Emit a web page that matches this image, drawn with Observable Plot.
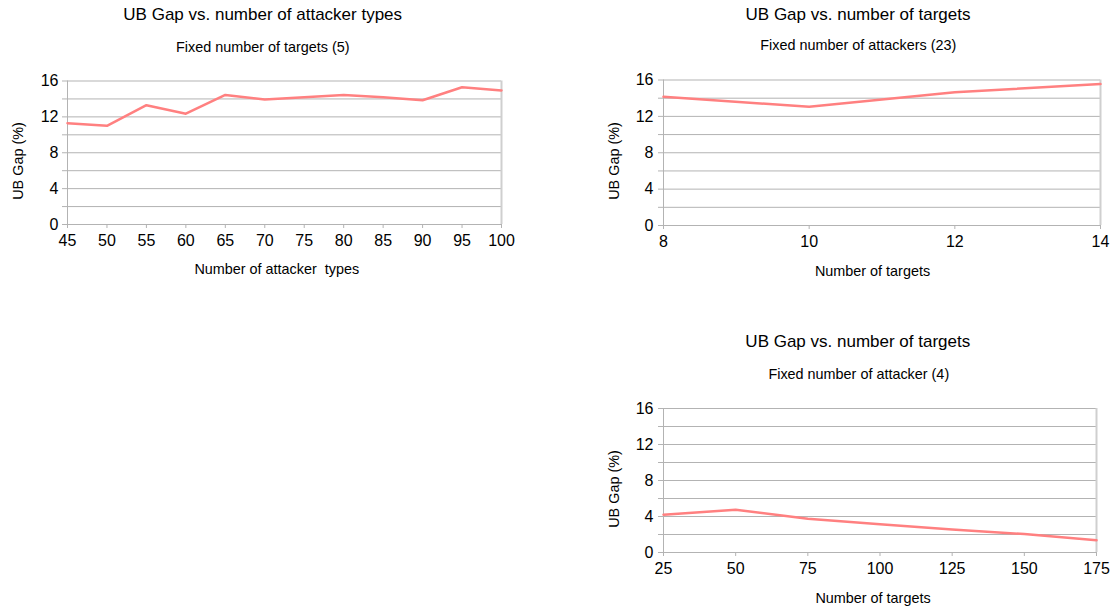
<!DOCTYPE html>
<html><head><meta charset="utf-8">
<script src="https://cdn.jsdelivr.net/npm/d3@7"></script>
<script src="https://cdn.jsdelivr.net/npm/@observablehq/plot@0.6"></script>
<style>
body{margin:0;background:#fff;font-family:"Liberation Sans",Arial,sans-serif;}
#root{position:relative;width:1114px;height:612px;overflow:hidden;background:#fff;}
.t{position:absolute;white-space:pre;color:#000;line-height:1;transform:translate(-50%,-50%);}
.title{font-size:17px;}
.sub{font-size:14.4px;}
.axt{font-size:14.4px;}
.yt{font-size:14.4px;transform:translate(-50%,-50%) rotate(-90deg);}
.c{position:absolute;}
</style></head>
<body><div id="root"></div>
<script>
// ---- data ----
const attackerTypes = [45, 50, 55, 60, 65, 70, 75, 80, 85, 90, 95, 100];
const gapByAttackerTypes = [11.3, 11.0, 13.3, 12.35, 14.45, 13.95, 14.2, 14.45, 14.2, 13.85, 15.3, 14.95];

const targetsFixed23 = [8, 10, 12, 14];
const gapByTargetsFixed23 = [14.15, 13.05, 14.65, 15.55];

const targetsFixed4 = [25, 50, 75, 100, 125, 150, 175];
const gapByTargetsFixed4 = [4.2, 4.75, 3.75, 3.15, 2.55, 2.05, 1.35];

const yTicks = [0, 2, 4, 6, 8, 10, 12, 14, 16];
const xTicks1 = [45, 50, 55, 60, 65, 70, 75, 80, 85, 90, 95, 100];
const xTicks2 = [8, 10, 12, 14];
const xTicks3 = [25, 50, 75, 100, 125, 150, 175];

const titles = ["UB Gap vs. number of attacker types", "UB Gap vs. number of targets", "UB Gap vs. number of targets"];
const subtitles = ["Fixed number of targets (5)", "Fixed number of attackers (23)", "Fixed number of attacker (4)"];
const xLabels = ["Number of attacker  types", "Number of targets", "Number of targets"];
const yLabel = "UB Gap (%)";

// ---- style ----
const lineColor = "#ff8080";
const gridColor = "#b3b3b3";
const font = "'Liberation Sans', Arial, sans-serif";

const root = document.getElementById("root");

function chart(xs, ys, xTicks, box) {
  const data = xs.map((x, i) => ({x, y: ys[i]}));
  const dom = [xTicks[0], xTicks[xTicks.length - 1]];
  const svg = Plot.plot({
    width: box.w, height: box.h,
    marginLeft: box.m[0], marginRight: box.m[1], marginTop: box.m[2], marginBottom: box.m[3],
    style: {background: "transparent", fontFamily: font, color: "#000", overflow: "visible", maxWidth: "none"},
    x: {domain: dom},
    y: {domain: [0, 16]},
    marks: [
      Plot.gridY(yTicks, {stroke: gridColor, strokeOpacity: 1, strokeWidth: 1}),
      Plot.ruleX([dom[0]], {stroke: gridColor, strokeWidth: 1}),
      Plot.ruleX([dom[1]], {stroke: "#cfcfcf", strokeWidth: 2}),
      Plot.axisY(yTicks, {tickSize: 5, tickPadding: box.yp, fontSize: 16, stroke: gridColor, fill: "#000",
        tickFormat: d => (d % 4 === 0 ? String(d) : ""), label: null}),
      Plot.axisX(xTicks, {tickSize: 4, tickPadding: 6, fontSize: 16, stroke: gridColor, fill: "#000", label: null}),
      Plot.line(data, {x: "x", y: "y", stroke: lineColor, strokeWidth: 2.5, strokeLinejoin: "round"})
    ]
  });
  const wrap = document.createElement("div");
  wrap.className = "c";
  wrap.style.left = box.left + "px";
  wrap.style.top = box.top + "px";
  wrap.style.width = box.w + "px";
  wrap.appendChild(svg);
  root.appendChild(wrap);
}

function text(cls, s, x, y) {
  const d = document.createElement("div");
  d.className = "t " + cls;
  d.textContent = s;
  d.style.left = x + "px";
  d.style.top = y + "px";
  root.appendChild(d);
}

chart(attackerTypes, gapByAttackerTypes, xTicks1, {left: 0, top: 60, w: 520, h: 230, m: [67, 19, 20.5, 66], yp: 4});
chart(targetsFixed23, gapByTargetsFixed23, xTicks2, {left: 590, top: 60, w: 524, h: 230, m: [73, 14, 19.5, 65], yp: 5});
chart(targetsFixed4, gapByTargetsFixed4, xTicks3, {left: 590, top: 390, w: 524, h: 222, m: [73, 18, 18, 60], yp: 5});

text("title", titles[0], 262.7, 13.7);
text("sub", subtitles[0], 262.8, 46.7);
text("axt", xLabels[0], 276.8, 269);
text("yt", yLabel, 17.8, 160.8);

text("title", titles[1], 858, 13.7);
text("sub", subtitles[1], 858.3, 44.8);
text("axt", xLabels[1], 872.5, 270.8);
text("yt", yLabel, 613.7, 160.8);

text("title", titles[2], 857.8, 341.3);
text("sub", subtitles[2], 858.8, 373.8);
text("axt", xLabels[2], 873, 598.3);
text("yt", yLabel, 614, 488.7);
</script>
</body></html>
